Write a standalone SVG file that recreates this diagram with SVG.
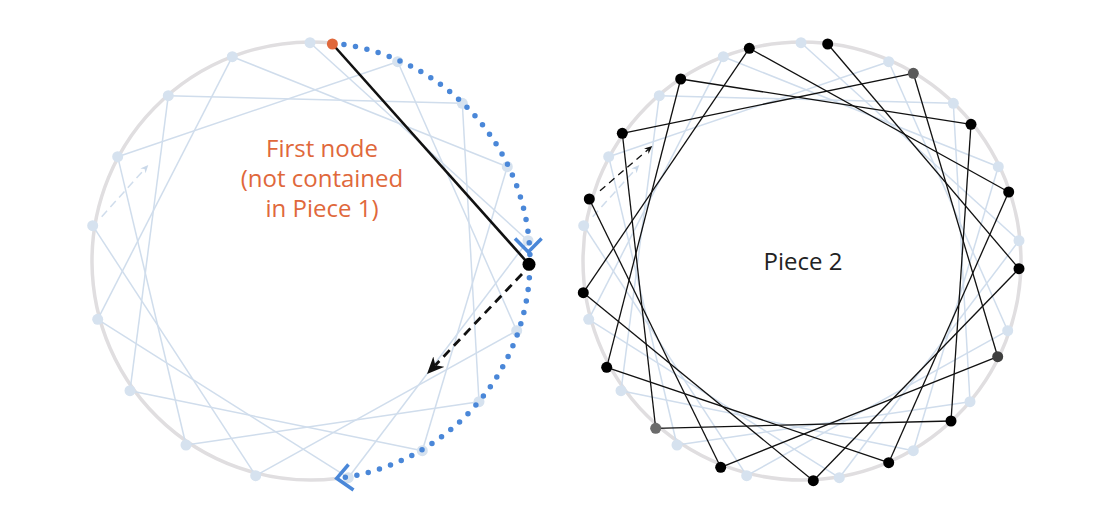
<svg xmlns="http://www.w3.org/2000/svg" width="1114" height="516" viewBox="0 0 1114 516">
<style>
.ring{fill:none;stroke:#e0dee0;stroke-width:3.5}
.le{stroke:#d0ddec;stroke-width:1.5;fill:none}
.ln{fill:#d6e2ef}
.be{stroke:#111;stroke-width:1.3;fill:none}
.bn{fill:#000}
.dots{fill:none;stroke:#4a87d8;stroke-width:5.5;stroke-linecap:round;stroke-dasharray:0 11.7}
.chev{fill:none;stroke:#4a87d8;stroke-width:3.5;stroke-linejoin:miter}
.lbl{font-family:"Open Sans","Noto Sans","Liberation Sans",sans-serif;font-size:24px;text-anchor:middle}
</style>
<defs>
<marker id="headBig" markerUnits="userSpaceOnUse" viewBox="0 -7.5 17 15" markerWidth="17" markerHeight="15" refX="5" refY="0" orient="auto"><path d="M0,-7.5 L17,0 L0,7.5 L5,0 Z" fill="#111"/></marker>
<marker id="headDark" markerUnits="userSpaceOnUse" viewBox="0 -3.5 8 7" markerWidth="8" markerHeight="7" refX="2.5" refY="0" orient="auto"><path d="M0,-3.5 L8,0 L0,3.5 L2.5,0 Z" fill="#111"/></marker>
<marker id="headLight" markerUnits="userSpaceOnUse" viewBox="0 -3.5 8 7" markerWidth="8" markerHeight="7" refX="2.5" refY="0" orient="auto"><path d="M0,-3.5 L8,0 L0,3.5 L2.5,0 Z" fill="#c9d8e9"/></marker>
</defs>

<!-- LEFT PANEL -->
<path class="ring" d="M336.6,478.5 A219,219 0 1 1 332.4,43.05"/>
<g id="left-connectors">
<line class="le" x1="310" y1="42.7" x2="528" y2="240.7"/>
<line class="le" x1="528" y1="240.7" x2="348.3" y2="477.7"/>
<line class="le" x1="348.3" y1="477.7" x2="97.7" y2="319.3"/>
<line class="le" x1="97.7" y1="319.3" x2="232.3" y2="56.7"/>
<line class="le" x1="232.3" y1="56.7" x2="507.3" y2="166.7"/>
<line class="le" x1="507.3" y1="166.7" x2="422.3" y2="450.7"/>
<line class="le" x1="422.3" y1="450.7" x2="130" y2="390.7"/>
<line class="le" x1="130" y1="390.7" x2="168.3" y2="95.7"/>
<line class="le" x1="168.3" y1="95.7" x2="462.3" y2="103.3"/>
<line class="le" x1="462.3" y1="103.3" x2="479" y2="401.7"/>
<line class="le" x1="479" y1="401.7" x2="186" y2="445"/>
<line class="le" x1="186" y1="445" x2="117.7" y2="156.7"/>
<line class="le" x1="117.7" y1="156.7" x2="397.7" y2="61.7"/>
<line class="le" x1="397.7" y1="61.7" x2="516.7" y2="330.7"/>
<line class="le" x1="516.7" y1="330.7" x2="255.7" y2="475.7"/>
<line class="le" x1="255.7" y1="475.7" x2="92.7" y2="225.7"/>
<line class="le" x1="101.7" y1="216.7" x2="144.6" y2="169.1" stroke-dasharray="8 5" marker-end="url(#headLight)"/>
</g>
<g id="left-light-nodes">
<g id="l-n0"><circle class="ln" cx="310" cy="42.7" r="5.5"/></g>
<g id="l-n1"><circle class="ln" cx="397.7" cy="61.7" r="5.5"/></g>
<g id="l-n2"><circle class="ln" cx="462.3" cy="103.3" r="5.5"/></g>
<g id="l-n3"><circle class="ln" cx="507.3" cy="166.7" r="5.5"/></g>
<g id="l-n4"><circle class="ln" cx="528" cy="240.7" r="5.5"/></g>
<g id="l-n5"><circle class="ln" cx="516.7" cy="330.7" r="5.5"/></g>
<g id="l-n6"><circle class="ln" cx="479" cy="401.7" r="5.5"/></g>
<g id="l-n7"><circle class="ln" cx="422.3" cy="450.7" r="5.5"/></g>
<g id="l-n8"><circle class="ln" cx="348.3" cy="477.7" r="5.5"/></g>
<g id="l-n9"><circle class="ln" cx="255.7" cy="475.7" r="5.5"/></g>
<g id="l-n10"><circle class="ln" cx="186" cy="445" r="5.5"/></g>
<g id="l-n11"><circle class="ln" cx="130" cy="390.7" r="5.5"/></g>
<g id="l-n12"><circle class="ln" cx="97.7" cy="319.3" r="5.5"/></g>
<g id="l-n13"><circle class="ln" cx="92.7" cy="225.7" r="5.5"/></g>
<g id="l-n14"><circle class="ln" cx="117.7" cy="156.7" r="5.5"/></g>
<g id="l-n15"><circle class="ln" cx="168.3" cy="95.7" r="5.5"/></g>
<g id="l-n16"><circle class="ln" cx="232.3" cy="56.7" r="5.5"/></g>
</g>
<g id="left-traversal">
<path class="dots" d="M332.4,43.05 A219,219 0 0 1 336.6,478.5"/>
<polyline class="chev" points="515,238.5 528.3,252 541.6,238.5"/>
<polyline class="chev" points="348.5,464.5 336.7,478.3 353.5,490"/>
<line x1="332.4" y1="44" x2="529" y2="264.3" stroke="#111" stroke-width="2.6"/>
<line x1="522" y1="274" x2="435.3" y2="365.3" stroke="#111" stroke-width="2.8" stroke-dasharray="9 6" marker-end="url(#headBig)"/>
</g>
<g id="first-node"><circle cx="332.4" cy="44" r="5.5" fill="#e0683b"/></g>
<g id="left-b4"><circle cx="529" cy="264.3" r="6.5" fill="#000"/></g>
<g id="label-first" fill="#e0683b">
<text class="lbl" x="322" y="156.5" font-size="25" font-weight="500">First node</text>
<text class="lbl" x="322" y="186.5" font-size="25" font-weight="500">(not contained</text>
<text class="lbl" x="322" y="216.5" font-size="25" font-weight="500">in Piece 1)</text>
</g>

<!-- RIGHT PANEL -->
<circle class="ring" cx="802" cy="261" r="219"/>
<g id="right-light-connectors">
<line class="le" x1="801" y1="42.7" x2="1019" y2="240.7"/>
<line class="le" x1="1019" y1="240.7" x2="839.3" y2="477.7"/>
<line class="le" x1="839.3" y1="477.7" x2="588.7" y2="319.3"/>
<line class="le" x1="588.7" y1="319.3" x2="723.3" y2="56.7"/>
<line class="le" x1="723.3" y1="56.7" x2="998.3" y2="166.7"/>
<line class="le" x1="998.3" y1="166.7" x2="913.3" y2="450.7"/>
<line class="le" x1="913.3" y1="450.7" x2="621" y2="390.7"/>
<line class="le" x1="621" y1="390.7" x2="659.3" y2="95.7"/>
<line class="le" x1="659.3" y1="95.7" x2="953.3" y2="103.3"/>
<line class="le" x1="953.3" y1="103.3" x2="970" y2="401.7"/>
<line class="le" x1="970" y1="401.7" x2="677" y2="445"/>
<line class="le" x1="677" y1="445" x2="608.7" y2="156.7"/>
<line class="le" x1="608.7" y1="156.7" x2="888.7" y2="61.7"/>
<line class="le" x1="888.7" y1="61.7" x2="1007.7" y2="330.7"/>
<line class="le" x1="1007.7" y1="330.7" x2="746.7" y2="475.7"/>
<line class="le" x1="746.7" y1="475.7" x2="583.7" y2="225.7"/>
<line class="le" x1="592.7" y1="216.7" x2="635.6" y2="169.1" stroke-dasharray="8 5" marker-end="url(#headLight)"/>
</g>
<g id="right-light-nodes">
<g id="r-l0"><circle class="ln" cx="801" cy="42.7" r="5.5"/></g>
<g id="r-l1"><circle class="ln" cx="888.7" cy="61.7" r="5.5"/></g>
<g id="r-l2"><circle class="ln" cx="953.3" cy="103.3" r="5.5"/></g>
<g id="r-l3"><circle class="ln" cx="998.3" cy="166.7" r="5.5"/></g>
<g id="r-l4"><circle class="ln" cx="1019" cy="240.7" r="5.5"/></g>
<g id="r-l5"><circle class="ln" cx="1007.7" cy="330.7" r="5.5"/></g>
<g id="r-l6"><circle class="ln" cx="970" cy="401.7" r="5.5"/></g>
<g id="r-l7"><circle class="ln" cx="913.3" cy="450.7" r="5.5"/></g>
<g id="r-l8"><circle class="ln" cx="839.3" cy="477.7" r="5.5"/></g>
<g id="r-l9"><circle class="ln" cx="746.7" cy="475.7" r="5.5"/></g>
<g id="r-l10"><circle class="ln" cx="677" cy="445" r="5.5"/></g>
<g id="r-l11"><circle class="ln" cx="621" cy="390.7" r="5.5"/></g>
<g id="r-l12"><circle class="ln" cx="588.7" cy="319.3" r="5.5"/></g>
<g id="r-l13"><circle class="ln" cx="583.7" cy="225.7" r="5.5"/></g>
<g id="r-l14"><circle class="ln" cx="608.7" cy="156.7" r="5.5"/></g>
<g id="r-l15"><circle class="ln" cx="659.3" cy="95.7" r="5.5"/></g>
<g id="r-l16"><circle class="ln" cx="723.3" cy="56.7" r="5.5"/></g>
</g>
<g id="piece2-connectors">
<line class="be" x1="827.7" y1="44" x2="1019" y2="268.7"/>
<line class="be" x1="1019" y1="268.7" x2="813.3" y2="480.7"/>
<line class="be" x1="813.3" y1="480.7" x2="583.3" y2="292.7"/>
<line class="be" x1="583.3" y1="292.7" x2="749.3" y2="48.3"/>
<line class="be" x1="749.3" y1="48.3" x2="1008.7" y2="192"/>
<line class="be" x1="1008.7" y1="192" x2="888.7" y2="462.7"/>
<line class="be" x1="888.7" y1="462.7" x2="606.7" y2="367.3"/>
<line class="be" x1="606.7" y1="367.3" x2="680.7" y2="79"/>
<line class="be" x1="680.7" y1="79" x2="971" y2="124.3"/>
<line class="be" x1="971" y1="124.3" x2="951" y2="421"/>
<line class="be" x1="951" y1="421" x2="655.7" y2="428.3"/>
<line class="be" x1="655.7" y1="428.3" x2="622.3" y2="133.3"/>
<line class="be" x1="622.3" y1="133.3" x2="913.3" y2="73.3"/>
<line class="be" x1="913.3" y1="73.3" x2="997.7" y2="356.7" stroke="#555"/>
<line class="be" x1="997.7" y1="356.7" x2="720.7" y2="467.3" stroke="#444"/>
<line class="be" x1="720.7" y1="467.3" x2="589.3" y2="199"/>
<line class="be" x1="600" y1="190.7" x2="648.1" y2="149.6" stroke-dasharray="7 5" marker-end="url(#headDark)"/>
</g>
<g id="piece2-nodes">
<g id="p2-n0"><circle class="bn" cx="827.7" cy="44" r="5.5"/></g>
<g id="p2-n1"><circle cx="913.3" cy="73.3" r="5.5" fill="#5a5a5a"/></g>
<g id="p2-n2"><circle class="bn" cx="971" cy="124.3" r="5.5"/></g>
<g id="p2-n3"><circle class="bn" cx="1008.7" cy="192" r="5.5"/></g>
<g id="p2-n4"><circle class="bn" cx="1019" cy="268.7" r="5.5"/></g>
<g id="p2-n5"><circle cx="997.7" cy="356.7" r="5.5" fill="#3f3f3f"/></g>
<g id="p2-n6"><circle class="bn" cx="951" cy="421" r="5.5"/></g>
<g id="p2-n7"><circle class="bn" cx="888.7" cy="462.7" r="5.5"/></g>
<g id="p2-n8"><circle class="bn" cx="813.3" cy="480.7" r="5.5"/></g>
<g id="p2-n9"><circle class="bn" cx="720.7" cy="467.3" r="5.5"/></g>
<g id="p2-n10"><circle cx="655.7" cy="428.3" r="5.5" fill="#6b6b6b"/></g>
<g id="p2-n11"><circle class="bn" cx="606.7" cy="367.3" r="5.5"/></g>
<g id="p2-n12"><circle class="bn" cx="583.3" cy="292.7" r="5.5"/></g>
<g id="p2-n13"><circle class="bn" cx="589.3" cy="199" r="5.5"/></g>
<g id="p2-n14"><circle class="bn" cx="622.3" cy="133.3" r="5.5"/></g>
<g id="p2-n15"><circle class="bn" cx="680.7" cy="79" r="5.5"/></g>
<g id="p2-n16"><circle class="bn" cx="749.3" cy="48.3" r="5.5"/></g>
</g>
<g id="label-piece2"><text class="lbl" x="803" y="269.5" fill="#222">Piece 2</text></g>
</svg>
